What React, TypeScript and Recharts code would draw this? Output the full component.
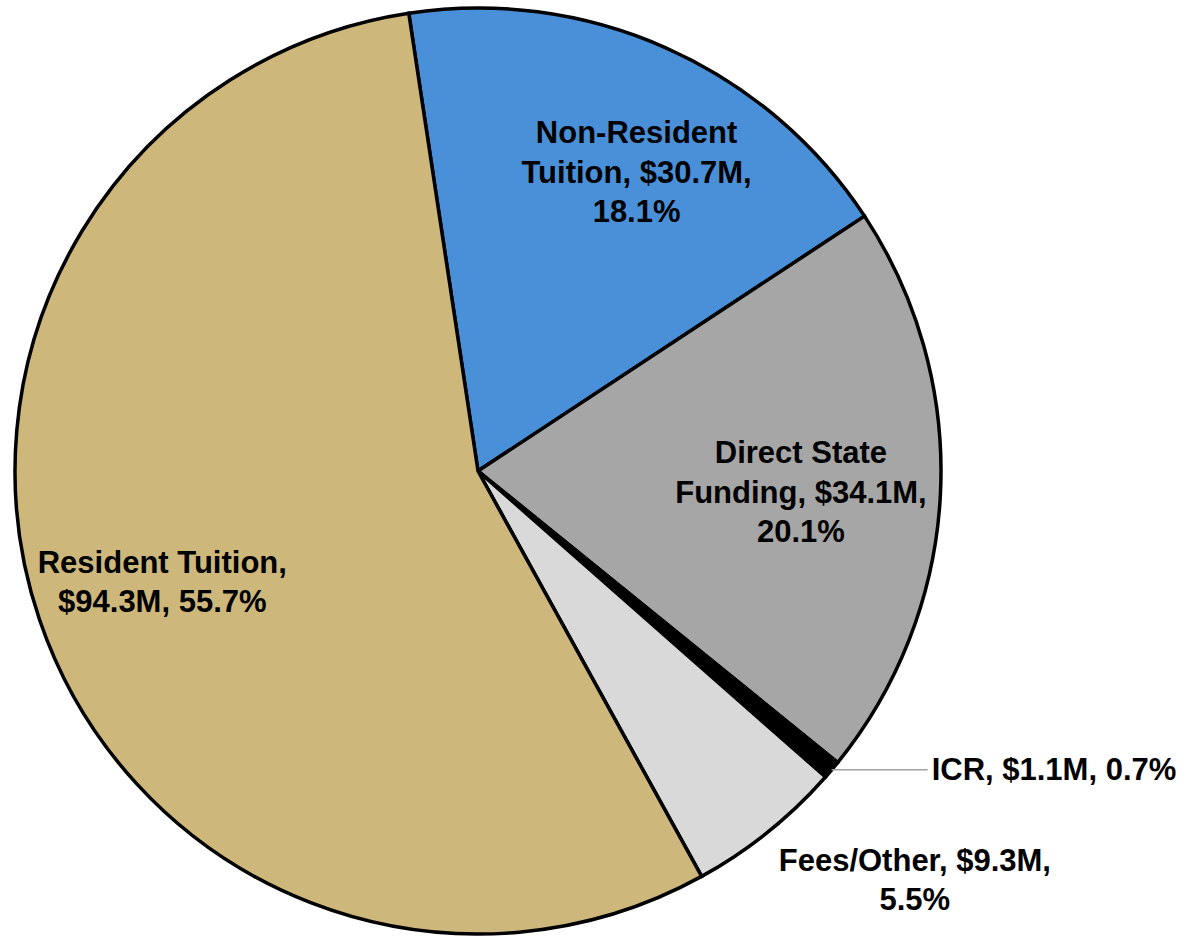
import React from "react";
import { PieChart, Pie, Cell } from "recharts";

const categories = ["Non-Resident Tuition", "Direct State Funding", "ICR", "Fees/Other", "Resident Tuition"];
const amounts = [30.7, 34.1, 1.1, 9.3, 94.3];
const percents = ["18.1%", "20.1%", "0.7%", "5.5%", "55.7%"];
const labelLines = [
  ["Non-Resident", "Tuition, $30.7M,", "18.1%"],
  ["Direct State", "Funding, $34.1M,", "20.1%"],
  ["ICR, $1.1M, 0.7%"],
  ["Fees/Other, $9.3M,", "5.5%"],
  ["Resident Tuition,", "$94.3M, 55.7%"],
];
const colors = ["#4a90d9", "#a5a6a5", "#000000", "#d9d9d9", "#cdb77b"];

const data = categories.map((name, i) => ({ name, value: amounts[i], pct: percents[i], lines: labelLines[i] }));

// label nudges (pixels) relative to the computed anchor point
const labelNudge = [
  [23, 6],
  [-10, 5],
  [0, 0],
  [147, 48],
  [0, 4],
];

const RAD = Math.PI / 180;
const FONT = 31;
const LH = 39.5;

const renderLabel = (props: any) => {
  const { cx, cy, midAngle, outerRadius, index } = props;
  const lines: string[] = data[index].lines;
  const cos = Math.cos(-midAngle * RAD);
  const sin = Math.sin(-midAngle * RAD);
  const style = { fontFamily: "'Liberation Sans', Arial, sans-serif", fontWeight: 700, fontSize: FONT };
  if (index === 2) {
    const ox = cx + outerRadius * cos;
    const oy = cy + outerRadius * sin;
    return (
      <g key={`lbl-${index}`}>
        <line x1={ox} y1={oy} x2={ox + 96} y2={oy} stroke="#a0a0a0" strokeWidth={1.5} />
        <text x={ox + 100} y={oy} dominantBaseline="central" textAnchor="start" fill="#000" style={style}>
          {lines[0]}
        </text>
      </g>
    );
  }
  const factor = index === 3 ? 1 : 0.72;
  const x = cx + outerRadius * factor * cos + labelNudge[index][0];
  const y = cy + outerRadius * factor * sin + labelNudge[index][1];
  const startY = y - ((lines.length - 1) * LH) / 2;
  return (
    <text key={`lbl-${index}`} x={x} y={startY} textAnchor="middle" fill="#000" style={style}>
      {lines.map((l, k) => (
        <tspan key={k} x={x} y={startY + k * LH} dominantBaseline="central">
          {l}
        </tspan>
      ))}
    </text>
  );
};

export default function App() {
  return (
    <div style={{ position: "absolute", left: 0, top: 0, width: 1200, height: 937, background: "#fff" }}>
      <PieChart width={1200} height={937} margin={{ top: 0, right: 0, bottom: 0, left: 0 }}>
        <Pie
          data={data}
          dataKey="value"
          nameKey="name"
          cx={478}
          cy={471}
          outerRadius={463}
          startAngle={98.6}
          endAngle={-261.4}
          stroke="#000"
          strokeWidth={3.5}
          isAnimationActive={false}
          labelLine={false}
          label={renderLabel}
        >
          {data.map((d, i) => (
            <Cell key={d.name} fill={colors[i]} stroke="#000" strokeWidth={3.5} />
          ))}
        </Pie>
      </PieChart>
    </div>
  );
}
